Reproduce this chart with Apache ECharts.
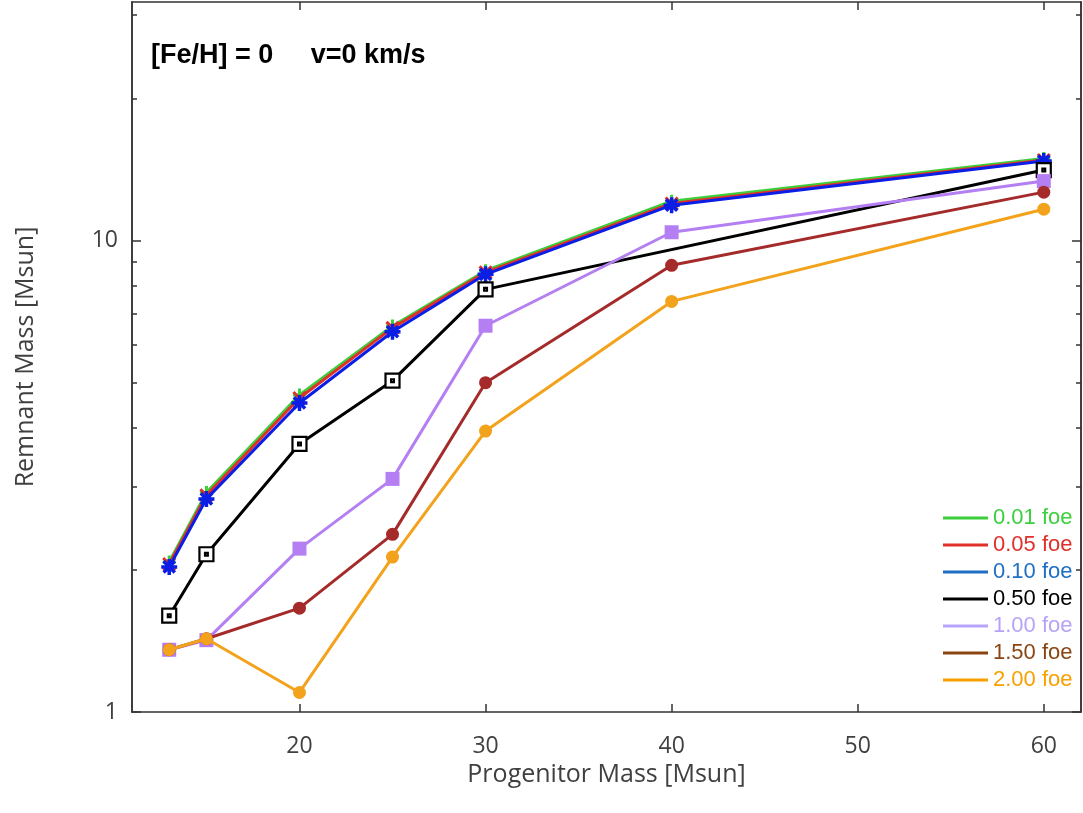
<!DOCTYPE html>
<html>
<head>
<meta charset="utf-8">
<script src="https://cdn.jsdelivr.net/npm/echarts@6/dist/echarts.min.js"></script>
<style>html,body{margin:0;padding:0;background:#fff}#c{width:1083px;height:813px}</style>
</head>
<body>
<div id="c"></div>
<script>
// ---- data ----
var masses = [13, 15, 20, 25, 30, 40, 60];
var massesNo40 = [13, 15, 20, 25, 30, 60];
var foe001 = [2.08, 2.92, 4.70, 6.58, 8.62, 12.1, 14.9];
var foe005 = [2.06, 2.88, 4.63, 6.52, 8.55, 11.97, 14.8];
var foe010 = [2.03, 2.83, 4.52, 6.40, 8.47, 11.87, 14.72];
var foe050 = [1.60, 2.16, 3.70, 5.04, 7.87, 14.09];
var foe100 = [1.355, 1.42, 2.22, 3.12, 6.59, 10.4, 13.35];
var foe150 = [1.355, 1.43, 1.66, 2.38, 4.99, 8.85, 12.65];
var foe200 = [1.355, 1.43, 1.10, 2.13, 3.94, 7.42, 11.64];
var seriesNames = ['0.01 foe', '0.05 foe', '0.10 foe', '0.50 foe', '1.00 foe', '1.50 foe', '2.00 foe'];
var xTickValues = [20, 30, 40, 50, 60];
var yMajorTicks = [1, 10];
var yMinorTicks = [2, 3, 4, 5, 6, 7, 8, 9, 20, 30];

function pairs(xs, ys) { return xs.map(function (x, i) { return [x, ys[i]]; }); }

var lineColors = ['#3ccf3c', '#e0302a', '#0a1ee6', '#000000', '#b47ff2', '#a52a2a', '#f3a21c'];
var legendColors = ['#3ccf3c', '#e0302a', '#1f6fc3', '#000000', '#b7a3f7', '#8b4513', '#f7a000'];

var frame = { show: true, lineStyle: { color: '#333', width: 1.5 } };
var font = "'Open Sans', 'Noto Sans', sans-serif";

function yAx(pos, ticks, len, labels, name) {
  return {
    type: 'log', logBase: 10, min: 1, max: 32, position: pos,
    axisLine: frame,
    splitLine: { show: false },
    axisTick: { show: true, inside: true, length: len, customValues: ticks, lineStyle: { color: '#333', width: 1.5 } },
    axisLabel: labels ? { show: true, customValues: yMajorTicks, fontFamily: font, fontSize: 23, color: '#404040', margin: 14 } : { show: false },
    name: name || '', nameLocation: 'middle', nameGap: 94, nameMoveOverlap: false,
    nameTextStyle: { fontFamily: font, fontSize: 25, color: '#404040' }
  };
}
function xAx(pos, labels, name) {
  return {
    type: 'value', min: 11, max: 62, position: pos,
    axisLine: frame,
    splitLine: { show: false },
    axisTick: { show: true, inside: true, length: 8, customValues: xTickValues, lineStyle: { color: '#333', width: 1.5 } },
    axisLabel: labels ? { show: true, customValues: xTickValues, fontFamily: font, fontSize: 23, color: '#404040', margin: 23 } : { show: false },
    name: name || '', nameLocation: 'middle', nameGap: 50, nameMoveOverlap: false,
    nameTextStyle: { fontFamily: font, fontSize: 25, color: '#404040' }
  };
}

var symbols = [
  'path://M5,0L5,10M0,5L10,5',
  'path://M0,0L10,10M10,0L0,10',
  'path://M5,0L5,10M0,5L10,5M1.5,1.5L8.5,8.5M8.5,1.5L1.5,8.5',
  'path://M0,0L10,0L10,10L0,10ZM4,4L6,4L6,6L4,6Z',
  'rect', 'circle', 'circle'
];
var symbolSizes = [13, 12, 16, 14, 14, 13, 13];
var datas = [
  pairs(masses, foe001), pairs(masses, foe005), pairs(masses, foe010),
  pairs(massesNo40, foe050), pairs(masses, foe100), pairs(masses, foe150), pairs(masses, foe200)
];

var series = seriesNames.map(function (nm, i) {
  var stroked = i < 3;
  var item;
  if (stroked) item = { color: lineColors[i], borderColor: lineColors[i], borderWidth: i === 2 ? 3.5 : 3 };
  else if (i === 3) item = { color: '#ffffff', borderColor: '#000', borderWidth: 2.2 };
  else item = { color: lineColors[i] };
  return {
    name: nm, type: 'line', xAxisIndex: 0, yAxisIndex: 0,
    data: datas[i],
    symbol: symbols[i], symbolSize: symbolSizes[i], showAllSymbol: true,
    lineStyle: { color: lineColors[i], width: 3 },
    itemStyle: item,
    emphasis: { disabled: true },
    z: 2 + i
  };
});

var chart = echarts.init(document.getElementById('c'), null, { renderer: 'canvas' });
chart.setOption({
  animation: false,
  backgroundColor: '#fff',
  title: {
    text: '[Fe/H] = 0     v=0 km/s', left: 151, top: 42,
    textStyle: { fontFamily: "'Liberation Sans', Arial, sans-serif", fontWeight: 'bold', fontSize: 27, color: '#000' },
    padding: 0
  },
  grid: { left: 132, right: 2, top: 2, bottom: 101, containLabel: false, outerBoundsMode: 'none' },
  xAxis: [xAx('bottom', true, 'Progenitor Mass [Msun]'), xAx('top', false)],
  yAxis: [
    yAx('left', yMajorTicks, 9, true, 'Remnant Mass [Msun]'),
    yAx('left', yMinorTicks, 5, false),
    yAx('right', yMajorTicks, 9, false),
    yAx('right', yMinorTicks, 5, false)
  ],
  legend: {
    orient: 'vertical', left: 943, top: 507, padding: 0,
    icon: 'rect', itemWidth: 45, itemHeight: 3, itemGap: 5, itemTextGap: 8,
    selectedMode: false,
    textStyle: { fontFamily: "'Liberation Sans', Arial, sans-serif", fontSize: 22, lineHeight: 22 },
    data: seriesNames.map(function (nm, i) {
      return { name: nm, itemStyle: { color: legendColors[i], borderWidth: 0 }, textStyle: { color: legendColors[i] } };
    })
  },
  series: series
});
</script>
</body>
</html>
